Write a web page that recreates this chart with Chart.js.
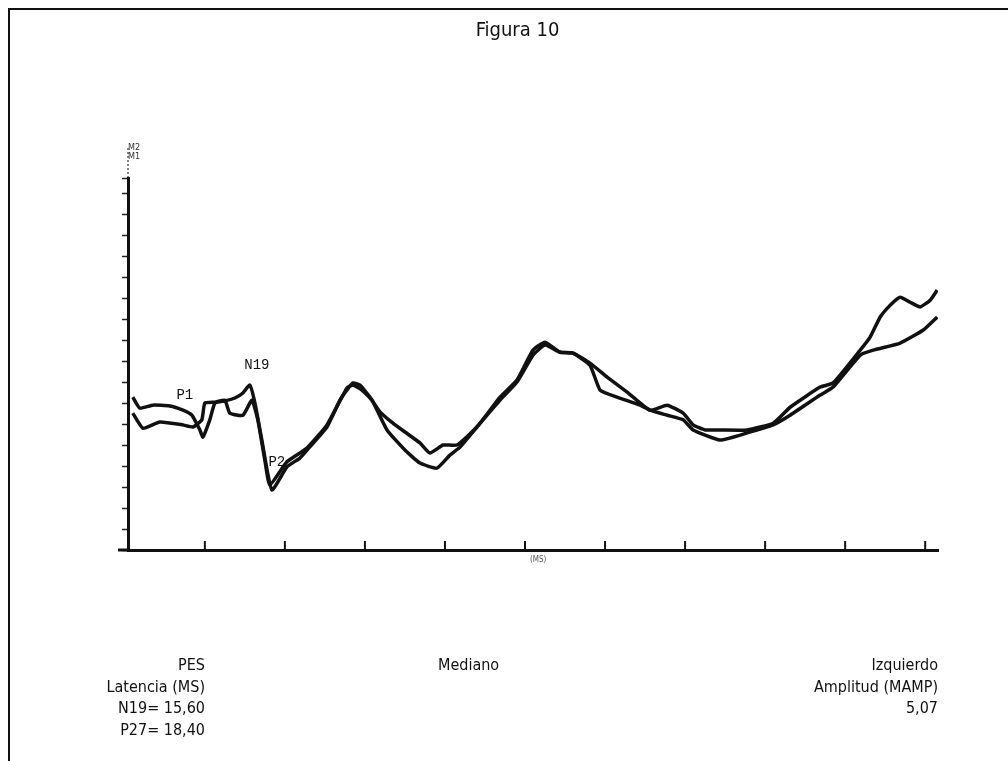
<!DOCTYPE html>
<html>
<head>
<meta charset="utf-8">
<script src="https://cdn.jsdelivr.net/npm/chart.js@4/dist/chart.umd.min.js"></script>
<style>
  html, body { margin:0; padding:0; background:#fff; }
  #wrap { position:relative; width:1008px; height:761px; overflow:hidden; }
  #frame { position:absolute; left:8px; top:8px; width:1010px; height:770px; border-left:2px solid #111; border-top:2px solid #111; }
  canvas { position:absolute; left:0; top:0; }
  .t { position:absolute; font-family:"Liberation Sans Narrow","DejaVu Sans Condensed","Liberation Sans",sans-serif; color:#111; font-size:16px; line-height:20px; white-space:nowrap; }
  .r { text-align:right; }
</style>
</head>
<body>
<div id="wrap">
  <div id="frame"></div>
  <canvas id="c" width="1008" height="761"></canvas>
  <div class="t" style="left:0;width:1035px;top:19px;text-align:center;font-size:20px;">Figura 10</div>
  <div class="t r" style="left:0;width:205px;top:655px;">PES</div>
  <div class="t r" style="left:0;width:205px;top:677px;">Latencia (MS)</div>
  <div class="t r" style="left:0;width:205px;top:698px;">N19= 15,60</div>
  <div class="t r" style="left:0;width:205px;top:720px;">P27= 18,40</div>
  <div class="t" style="left:438px;top:655px;">Mediano</div>
  <div class="t r" style="left:0;width:938px;top:655px;">Izquierdo</div>
  <div class="t r" style="left:0;width:938px;top:677px;">Amplitud (MAMP)</div>
  <div class="t r" style="left:0;width:938px;top:698px;">5,07</div>
  <div class="t" style="left:128px;top:143px;font-size:9px;line-height:9px;color:#333;">M2<br>M1</div>
  <div class="t" style="left:530px;top:556px;font-size:8px;line-height:8px;color:#555;">(MS)</div>
</div>
<script>
// ---- data (time in ms, amplitude in arbitrary units) ----
const m1Time = [0.5,0.94,1.75,2.81,3.63,4.19,4.69,4.88,5.31,5.63,6.25,6.88,7.38,7.81,8.13,8.56,9.19,10.13,10.94,11.38,12.63,13.44,13.88,14.25,14.69,15.31,15.94,16.75,17.5,18.44,19.06,19.88,20.75,22.0,23.44,24.5,25.5,26.25,27.19,28.0,29.06,30.13,31.38,32.81,33.88,34.88,35.5,36.25,37.19,38.88,40.5,41.56,43.44,44.25,45.94,46.56,47.19,47.81,48.44,49.06,49.69,50.31,50.75];
const m1Amp  = [3.64,3.38,3.45,3.43,3.33,3.21,2.86,2.69,3.10,3.50,3.55,3.62,3.74,3.93,3.50,2.62,1.43,1.98,2.19,2.38,2.93,3.57,3.81,3.98,3.93,3.64,3.29,3.02,2.81,2.55,2.31,2.50,2.50,2.93,3.64,4.05,4.76,4.95,4.71,4.69,4.45,4.12,3.76,3.33,3.45,3.26,2.98,2.86,2.86,2.86,3.02,3.40,3.88,3.98,4.76,5.07,5.55,5.83,6.02,5.90,5.79,5.95,6.19];
const m2Time = [0.5,1.13,2.19,3.63,4.25,4.81,5.0,5.63,6.25,6.56,7.38,7.94,8.31,8.75,9.06,10.13,11.38,12.63,13.88,14.25,14.81,15.44,16.38,17.5,18.44,19.5,20.31,20.94,22.0,23.44,24.5,25.5,26.25,27.19,28.0,29.06,29.69,30.75,32.19,32.81,33.88,34.88,35.5,37.19,38.88,40.5,41.56,43.44,44.25,45.94,46.75,48.44,49.88,50.75];
const m2Amp  = [3.26,2.90,3.05,2.98,2.93,3.10,3.50,3.52,3.57,3.26,3.21,3.57,3.10,2.14,1.55,2.10,2.43,2.98,3.86,3.93,3.81,3.57,2.86,2.38,2.07,1.95,2.26,2.45,2.93,3.57,4.00,4.64,4.88,4.71,4.69,4.40,3.81,3.64,3.45,3.33,3.21,3.10,2.86,2.62,2.79,2.98,3.21,3.69,3.88,4.64,4.76,4.93,5.24,5.55];
const xTickValues = [0,5,10,15,20,25,30,35,40,45,50];
const peakLabels = ["P1","N19","P2"];
const peakTime   = [3.75,8.25,9.5];
const peakAmp    = [3.69,4.40,2.10];

const toXY = (xs, ys) => xs.map((x, i) => ({x, y: ys[i]}));

const decor = {
  id: 'decor',
  afterDraw(chart) {
    const {ctx, chartArea, scales} = chart;
    const xs = scales.x, ys = scales.y;
    ctx.save();
    ctx.strokeStyle = '#111';
    ctx.lineWidth = 3;
    ctx.beginPath();
    ctx.moveTo(chartArea.left - 10, chartArea.bottom);
    ctx.lineTo(chartArea.left, chartArea.bottom);
    ctx.stroke();
    ctx.lineWidth = 2;
    xTickValues.forEach(v => {
      const px = xs.getPixelForValue(v);
      if (px > chartArea.left + 2) {
        ctx.beginPath();
        ctx.moveTo(px, chartArea.bottom);
        ctx.lineTo(px, chartArea.bottom - 9);
        ctx.stroke();
      }
    });
    ctx.lineWidth = 1;
    ctx.setLineDash([2, 2]);
    ctx.beginPath();
    ctx.moveTo(chartArea.left, chartArea.top);
    ctx.lineTo(chartArea.left, chartArea.top - 32);
    ctx.stroke();
    ctx.setLineDash([]);
    ctx.fillStyle = '#111';
    ctx.font = '14px "Liberation Mono", "DejaVu Sans Mono", monospace';
    ctx.textAlign = 'center';
    ctx.textBaseline = 'middle';
    peakLabels.forEach((t, i) => {
      ctx.fillText(t, xs.getPixelForValue(peakTime[i]), ys.getPixelForValue(peakAmp[i]));
    });
    ctx.restore();
  }
};

new Chart(document.getElementById('c'), {
  type: 'line',
  data: {
    datasets: [
      { label: 'M1', data: toXY(m1Time, m1Amp), borderColor: '#111', borderWidth: 3.5, pointRadius: 0, tension: 0.15, fill: false },
      { label: 'M2', data: toXY(m2Time, m2Amp), borderColor: '#111', borderWidth: 3.5, pointRadius: 0, tension: 0.15, fill: false }
    ]
  },
  options: {
    responsive: false,
    animation: false,
    layout: { padding: { left: 122, right: 70, top: 178, bottom: 211 } },
    plugins: { legend: { display: false }, tooltip: { enabled: false }, title: { display: false } },
    scales: {
      x: {
        type: 'linear', min: 0.2, max: 50.8,
        grid: { display: true, drawOnChartArea: false, drawTicks: false },
        border: { display: true, color: '#111', width: 3 },
        ticks: { display: false, stepSize: 5 }
      },
      y: {
        type: 'linear', min: 0, max: 8.86,
        grid: { display: true, drawOnChartArea: false, drawTicks: true, tickLength: 6, tickColor: '#222', tickWidth: 1.5 },
        border: { display: true, color: '#111', width: 3 },
        ticks: { display: false, stepSize: 0.5 }
      }
    }
  },
  plugins: [decor]
});
</script>
</body>
</html>
